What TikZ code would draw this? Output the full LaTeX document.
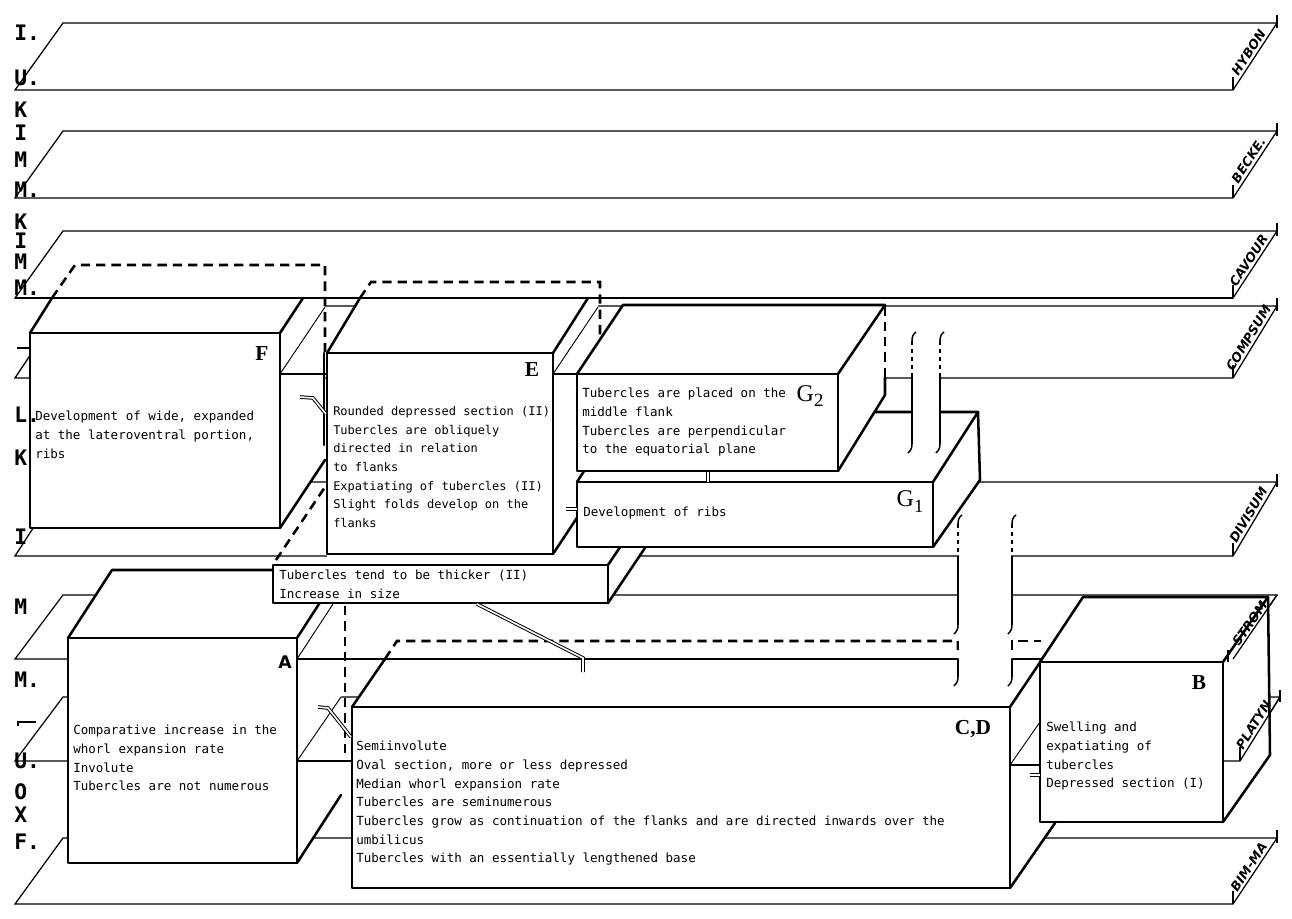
\documentclass[tikz,border=0pt]{standalone}
\usepackage{fontspec}
\setmainfont{Liberation Serif}
\newfontfamily\monof{DejaVu Sans Mono}
\newfontfamily\zonef{DejaVu Sans}
\newfontfamily\sansf{DejaVu Sans}
\newcommand\drawplane[4]{%
  \draw[pl] (15,#2) -- (1233,#2) -- (1277,#1) -- (63,#1) -- cycle;
  \draw[pl] (1233,#2) -- ++(0,-13);
  \draw[pl] (1277,#1) ++(0,-8) -- ++(0,13);
  \path (1233,#2) -- node[zone,sloped,above=1.5pt] (#4) {#3} (1277,#1);
}
\begin{document}
\begin{tikzpicture}[x=0.75pt,y=-0.75pt,
 edge/.style={line width=1.9pt,line join=round,line cap=round},
 pl/.style={line width=0.95pt},
 thn/.style={line width=0.7pt},
 tb/.style={line width=1.1pt},
 hid/.style={line width=1.9pt,dash pattern=on 7pt off 4.5pt},
 dbl/.style={double=white,double distance=1.2pt,line width=0.75pt},
 wf/.style={fill=white},
 txt/.style={font=\monof\fontsize{9.4}{14}\selectfont,align=left,anchor=north west,inner sep=0pt},
 txtn/.style={txt,font=\monof\fontsize{9.0}{14}\selectfont},
 big/.style={font=\bfseries\fontsize{16}{16}\selectfont,inner sep=0pt},
 stg/.style={font=\monof\bfseries\fontsize{16}{16}\selectfont,anchor=west,inner sep=0pt},
 zone/.style={font=\zonef\bfseries\itshape\fontsize{9.5}{9.5}\selectfont,inner sep=0.5pt}]
\useasboundingbox (0,0) rectangle (1292,918);
\fill[white] (0,0) rectangle (1292,918);

% ---------- planes ----------
\drawplane{23}{90}{HYBON}{z1}
\drawplane{131}{198}{BECKE.}{z2}
\drawplane{231}{298}{CAVOUR}{z3}
\drawplane{306}{378}{COMPSUM}{z4}
\drawplane{482}{556}{DIVISUM}{z5}
\draw[pl] (15,659) -- (1233,659) -- (1277,595) -- (63,595) -- cycle;
\draw[pl] (15,761) -- (1240,761) -- (1280,697) -- (63,697) -- cycle;
\drawplane{838}{904}{BIM-MA}{z8}
\draw[pl] (17,348) -- (30,348);
\draw[pl] (18,726) -- (18,722) -- (36,722);

% ---------- box F ----------
\fill[wf] (30,333) rectangle (280,528);
\fill[wf] (30,333) -- (280,333) -- (303,298) -- (52,298) -- cycle;
\fill[wf] (280,333) -- (303,298) -- (325,298) -- (325,460) -- (280,528) -- cycle;
\draw[edge] (30,333) rectangle (280,528);
\draw[edge] (30,333) -- (52,298);
\draw[edge] (280,333) -- (303,298);
\draw[edge] (280,528) -- (325,460);

% ---------- box A ----------
\fill[wf] (68,638) rectangle (297,863);
\fill[wf] (68,638) -- (297,638) -- (341,570) -- (112,570) -- cycle;
\fill[wf] (297,638) -- (341,570) -- (341,795) -- (297,863) -- cycle;
\draw[edge] (68,638) rectangle (297,863);
\draw[edge] (68,638) -- (112,570) -- (341,570);
\draw[edge] (297,638) -- (341,570);
\draw[edge] (297,863) -- (341,795);

% ---------- box TT ----------
\fill[wf] (327,554) -- (615,554) -- (608,565) -- (327,565) -- cycle;
\fill[wf] (608,565) -- (653,498) -- (653,536) -- (608,603) -- cycle;
\fill[wf] (273,565) rectangle (608,603);
\draw[edge] (273,565) rectangle (608,603);
\draw[edge] (608,565) -- (653,498);
\draw[edge] (608,603) -- (653,536);

% ---------- box E ----------
\fill[wf] (327,353) rectangle (553,554);
\fill[wf] (327,353) -- (553,353) -- (588,298) -- (360,298) -- cycle;
\fill[wf] (553,353) -- (588,298) -- (598,298) -- (598,486) -- (553,554) -- cycle;
\draw[edge] (327,353) rectangle (553,554);
\draw[edge] (327,353) -- (360,298);
\draw[edge] (553,353) -- (588,298);
\draw[edge] (553,554) -- (598,486);

% ---------- box G1 ----------
\fill[wf] (577,482) rectangle (933,547);
\fill[wf] (577,482) -- (933,482) -- (978,412) -- (622,412) -- cycle;
\fill[wf] (933,482) -- (978,412) -- (980,480) -- (933,547) -- cycle;
\draw[edge] (577,482) rectangle (933,547);
\draw[edge] (577,482) -- (622,412) -- (978,412);
\draw[edge] (933,482) -- (978,412) -- (980,480) -- (933,547);

% ---------- box G2 ----------
\fill[wf] (577,374) rectangle (838,471);
\fill[wf] (577,374) -- (838,374) -- (885,305) -- (623,305) -- cycle;
\fill[wf] (838,374) -- (885,305) -- (885,395) -- (838,471) -- cycle;
\draw[edge] (577,374) rectangle (838,471);
\draw[edge] (577,374) -- (623,305) -- (885,305) -- (838,374);
\draw[edge] (838,471) -- (885,395) -- (885,377);
\draw[hid] (885,377) -- (885,305);

% ---------- box C,D ----------
\fill[wf] (352,707) rectangle (1010,888);
\fill[wf] (352,707) -- (1010,707) -- (1043,659) -- (385,659) -- cycle;
\fill[wf] (1010,707) -- (1055,640) -- (1055,823) -- (1010,888) -- cycle;
\draw[edge] (352,707) rectangle (1010,888);
\draw[edge] (352,707) -- (385,659);
\draw[edge] (1010,707) -- (1055,640);
\draw[edge] (1010,888) -- (1055,823);

% ---------- box B ----------
\fill[wf] (1040,662) rectangle (1223,822);
\fill[wf] (1040,662) -- (1223,662) -- (1268,597) -- (1083,597) -- cycle;
\fill[wf] (1223,662) -- (1268,597) -- (1270,755) -- (1223,822) -- cycle;
\draw[edge] (1040,662) rectangle (1223,822);
\draw[edge] (1040,662) -- (1083,597) -- (1268,597);
\draw[edge] (1223,662) -- (1268,597);
\draw[edge] (1268,597) -- (1270,755) -- (1223,822);
% right ends of planes 6 and 7 over B
\draw[pl] (1233,659) -- (1277,595);
\draw[pl] (1228,662) -- ++(0,-12);
\path (1233,659) -- node[zone,sloped,above=0.5pt] (z6) {STROM} (1277,595);
\draw[pl] (1223,761) -- (1240,761) -- (1280,697);
\draw[pl] (1240,761) -- ++(0,-14);
\draw[pl] (1280,690) -- ++(0,12);
\path (1240,761) -- node[zone,sloped,above=1.5pt] (z7) {PLATYN} (1280,697);

% ---------- plane lines in front of faces ----------
\draw[pl] (15,298) -- (1233,298);
\draw[pl] (280,374) -- (327,374);
\draw[thn] (280,374) -- (325,307);
\draw[pl] (553,374) -- (577,374);
\draw[thn] (553,374) -- (598,307);
\draw[pl] (297,659) -- (958,659);
\draw[pl] (1012,659) -- (1040,659);
\draw[thn] (297,659) -- (333,604);
\draw[pl] (297,761) -- (352,761);
\draw[thn] (297,761) -- (341,697);
\draw[pl] (1010,765) -- (1040,765);
\draw[thn] (1010,765) -- (1040,722);

% ---------- hidden (dashed) edges ----------
\draw[hid] (52,298) -- (75,265) -- (325,265) -- (325,353);
\draw[edge] (324,353) -- (324,445);
\draw[hid] (360,298) -- (371,282) -- (600,282) -- (600,335);
\draw[hid] (276,560) -- (325,487);
\draw[hid] (345,606) -- (345,757);
\draw[hid] (385,659) -- (397,641) -- (958,641) -- (958,650);
\draw[hid] (1012,650) -- (1012,641) -- (1041,641);

% ---------- tubes ----------
\fill[white] (913,342) rectangle (939,443);
\foreach \tx in {912,940} {
  \draw[tb,dashed] (\tx,341) -- (\tx,377);
  \draw[tb] (\tx,377) -- (\tx,444);
  \draw[tb] (\tx,341) .. controls (\tx,337) and (\tx+1,334) .. (\tx+4,332);
  \draw[tb] (\tx,444) .. controls (\tx,448) and (\tx-1,450) .. (\tx-4,453);
}
\fill[white] (959,525) rectangle (1011,676);
\foreach \tx in {958,1012} {
  \draw[tb,dashed] (\tx,524) -- (\tx,557);
  \draw[tb] (\tx,557) -- (\tx,625);
  \draw[tb] (\tx,524) .. controls (\tx,520) and (\tx+1,517) .. (\tx+4,515);
  \draw[tb] (\tx,625) .. controls (\tx,629) and (\tx-1,631) .. (\tx-4,634);
  \draw[tb] (\tx,659) -- (\tx,677);
  \draw[tb] (\tx,677) .. controls (\tx,681) and (\tx-1,683) .. (\tx-4,686);
}

% ---------- double-line links ----------
\coordinate (fe0) at (300,397); \coordinate (fe1) at (313,398); \coordinate (fe2) at (326,414);
\draw[dbl] (fe0) -- (fe1) -- (fe2);
\coordinate (ac0) at (318,707); \coordinate (ac1) at (328,708); \coordinate (ac2) at (351,737);
\draw[dbl] (ac0) -- (ac1) -- (ac2);
\coordinate (tc0) at (477,604); \coordinate (tc1) at (583,658); \coordinate (tc2) at (583,672);
\draw[dbl] (tc0) -- (tc1) -- (tc2);
\coordinate (eg0) at (566,509); \coordinate (eg1) at (577,509);
\draw[dbl] (eg0) -- (eg1);
\coordinate (cb0) at (1030,775); \coordinate (cb1) at (1040,775);
\draw[dbl] (cb0) -- (cb1);
\coordinate (gg0) at (708,482); \coordinate (gg1) at (708,472);
\draw[dbl] (gg0) -- (gg1);

% ---------- box texts ----------
\node[txt] (tF) at (35,411) {Development of wide, expanded\\at the lateroventral portion,\\ribs};
\node[txtn] (tE) at (333,406) {Rounded depressed section (II)\\Tubercles are obliquely\\directed in relation\\to flanks\\Expatiating of tubercles (II)\\Slight folds develop on the\\flanks};
\node[txt] (tG2) at (582,388) {Tubercles are placed on the\\middle flank\\Tubercles are perpendicular\\to the equatorial plane};
\node[txt] (tG1) at (583,507) {Development of ribs};
\node[txt] (tTT) at (279,570) {Tubercles tend to be thicker (II)\\Increase in size};
\node[txt] (tA) at (73,725) {Comparative increase in the\\whorl expansion rate\\Involute\\Tubercles are not numerous};
\node[txt] (tCD) at (356,741) {Semiinvolute\\Oval section, more or less depressed\\Median whorl expansion rate\\Tubercles are seminumerous\\Tubercles grow as continuation of the flanks and are directed inwards over the\\umbilicus\\Tubercles with an essentially lengthened base};
\node[txt] (tB) at (1046,722) {Swelling and\\expatiating of\\tubercles\\Depressed section (I)};

% ---------- box letters ----------
\node[big] (lF) at (262,354) {F};
\node[big] (lE) at (532,370) {E};
\node[big] (lB) at (1199,683) {B};
\node[big] (lCD) at (973,729) {C,D};
\node[inner sep=0pt,font=\sansf\bfseries\fontsize{13}{13}\selectfont] (lA) at (285,662) {A};
\node[inner sep=0pt,font=\fontsize{18}{18}\selectfont] (lG2) at (810,396) {G\raisebox{-3.5pt}{\fontsize{14}{14}\selectfont 2}};
\node[inner sep=0pt,font=\fontsize{18}{18}\selectfont] (lG1) at (910,502) {G\raisebox{-4.5pt}{\fontsize{14}{14}\selectfont 1}};

% ---------- stage letters (left) ----------
\node[stg] (s1) at (14,33) {I.};
\node[stg] (s2) at (14,78) {U.};
\node[stg] (s3) at (14,110) {K};
\node[stg] (s4) at (14,133) {I};
\node[stg] (s5) at (14,160) {M};
\node[stg] (s6) at (14,190) {M.};
\node[stg] (s7) at (14,222) {K};
\node[stg] (s8) at (14,241) {I};
\node[stg] (s9) at (14,262) {M};
\node[stg] (s10) at (14,288) {M.};
\node[stg] (s11) at (14,415) {L.};
\node[stg] (s12) at (14,458) {K};
\node[stg] (s13) at (14,537) {I};
\node[stg] (s14) at (14,607) {M};
\node[stg] (s15) at (14,680) {M.};
\node[stg] (s16) at (14,761) {U.};
\node[stg] (s17) at (14,792) {O};
\node[stg] (s18) at (14,815) {X};
\node[stg] (s19) at (14,842) {F.};
\end{tikzpicture}
\end{document}
